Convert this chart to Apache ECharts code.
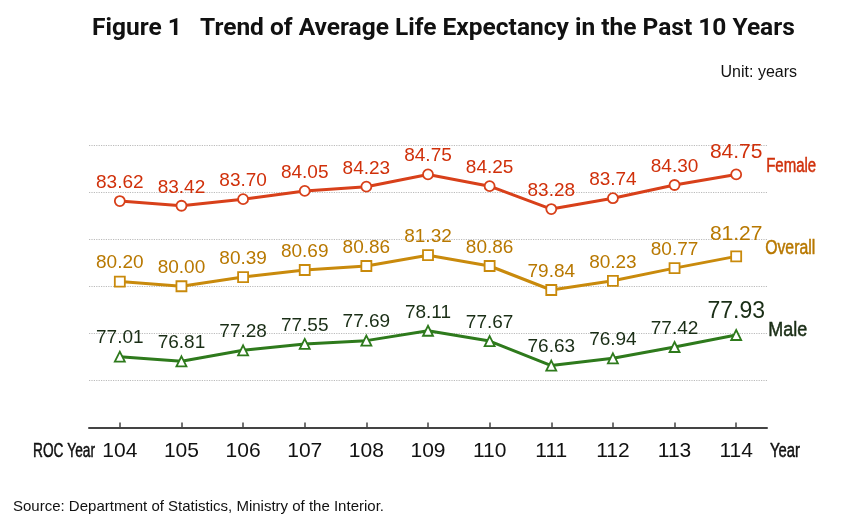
<!DOCTYPE html>
<html>
<head>
<meta charset="utf-8">
<script src="https://cdn.jsdelivr.net/npm/echarts@6/dist/echarts.min.js"></script>
<style>
  html, body { margin: 0; padding: 0; background: #fff; }
  #main { width: 866px; height: 526px; }
</style>
</head>
<body>
<div id="main"></div>
<script>
var years = ['104', '105', '106', '107', '108', '109', '110', '111', '112', '113', '114'];
var seriesNames = ['Female', 'Overall', 'Male'];
var female = [83.62, 83.42, 83.70, 84.05, 84.23, 84.75, 84.25, 83.28, 83.74, 84.30, 84.75];
var overall = [80.20, 80.00, 80.39, 80.69, 80.86, 81.32, 80.86, 79.84, 80.23, 80.77, 81.27];
var male = [77.01, 76.81, 77.28, 77.55, 77.69, 78.11, 77.67, 76.63, 76.94, 77.42, 77.93];

var sans = '"Liberation Sans", Arial, sans-serif';
var lineColors = ['#d8401a', '#c98a0c', '#2e7a1c'];
var textColors = ['#d0300a', '#b87800', '#1a2e16'];
var symbols = ['circle', 'rect', 'triangle'];
var lastLabelSize = [21, 21, 23];

function makeSeries(idx, values) {
  var last = values.length - 1;
  return {
    name: seriesNames[idx],
    type: 'line',
    data: values.map(function (v, i) {
      var d = { value: v };
      if (i === last) {
        d.label = { fontSize: lastLabelSize[idx], distance: 6 };
      }
      return d;
    }),
    symbol: symbols[idx],
    symbolSize: 10,
    showAllSymbol: true,
    lineStyle: { color: lineColors[idx], width: 3 },
    itemStyle: { color: '#fff', borderColor: lineColors[idx], borderWidth: 1.8 },
    label: {
      show: true,
      position: 'top',
      distance: 3,
      color: textColors[idx],
      fontFamily: sans,
      fontSize: 19,
      formatter: function (p) { return p.value.toFixed(2); }
    },
    emphasis: { disabled: true },
    animation: false
  };
}

// condensed-looking text: squeeze a normal face to a wanted width
var measureCtx = document.createElement('canvas').getContext('2d');
function narrowText(text, x, y, color, width) {
  var font = '20px ' + sans;
  measureCtx.font = font;
  var w = measureCtx.measureText(text).width;
  return {
    type: 'text',
    x: x,
    y: y,
    scaleX: width / w,
    style: {
      text: text,
      font: font,
      fill: color,
      stroke: color,
      lineWidth: 0.5,
      verticalAlign: 'middle'
    }
  };
}

var chart = echarts.init(document.getElementById('main'));
var option = {
  backgroundColor: '#fff',
  title: [
    {
      text: 'Figure 1   Trend of Average Life Expectancy in the Past 10 Years',
      left: 87,
      top: 11,
      textStyle: { fontFamily: 'Roboto, sans-serif', fontWeight: 'bold', fontSize: 24.5, color: '#111' }
    },
    {
      text: 'Unit: years',
      right: 64,
      top: 60,
      textStyle: { fontFamily: sans, fontWeight: 'normal', fontSize: 16, color: '#111' }
    },
    {
      text: 'Source: Department of Statistics, Ministry of the Interior.',
      left: 8,
      top: 494,
      textStyle: { fontFamily: sans, fontWeight: 'normal', fontSize: 15, color: '#111' }
    }
  ],
  grid: { left: 89, right: 99, top: 145, bottom: 98.5 },
  xAxis: {
    type: 'category',
    data: years,
    boundaryGap: true,
    axisLine: { lineStyle: { color: '#444', width: 2 } },
    axisTick: { show: true, inside: true, alignWithLabel: true, length: 5, lineStyle: { color: '#444', width: 1.5 } },
    axisLabel: { color: '#111', fontFamily: sans, fontSize: 21, margin: 13 }
  },
  yAxis: {
    type: 'value',
    min: 74,
    max: 86,
    interval: 2,
    axisLine: { show: false },
    axisTick: { show: false },
    axisLabel: { show: false },
    splitLine: { lineStyle: { color: '#bbb', type: 'dotted', width: 1.2 } }
  },
  series: [
    makeSeries(0, female),
    makeSeries(1, overall),
    makeSeries(2, male)
  ]
};
chart.setOption(option);

// series names placed next to the last point of each line
var allValues = [female, overall, male];
var nameShiftY = [-8, -8, -4];
var nameShiftX = [30, 29, 32];
var nameWidth = [50, 50, 39];
var graphics = [
  narrowText('ROC Year', 33, 451, '#111', 62),
  narrowText('Year', 770, 451, '#111', 30)
];
allValues.forEach(function (vals, i) {
  var last = vals.length - 1;
  var pt = chart.convertToPixel({ seriesIndex: i }, [last, vals[last]]);
  graphics.push(narrowText(seriesNames[i], pt[0] + nameShiftX[i], pt[1] + nameShiftY[i], textColors[i], nameWidth[i]));
});
chart.setOption({ graphic: graphics });
</script>
</body>
</html>
